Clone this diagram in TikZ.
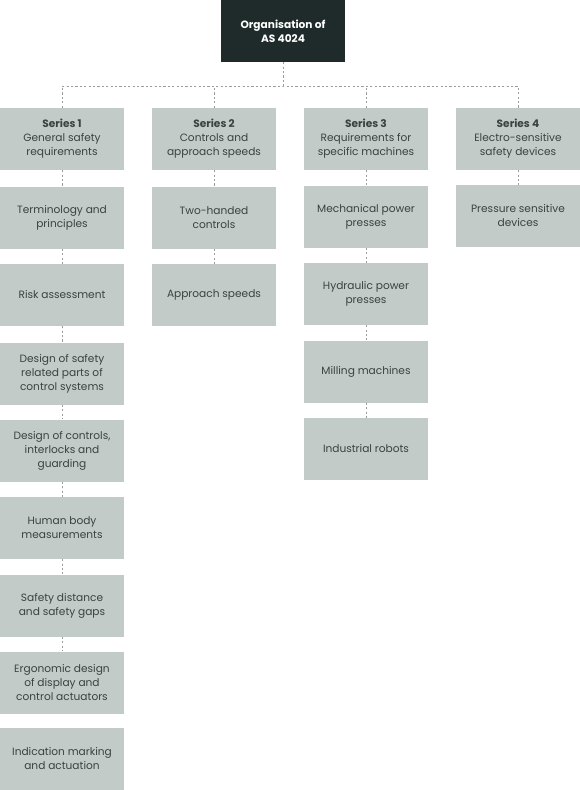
\documentclass[tikz,border=0pt]{standalone}
\usepackage{fontspec}
\setmainfont{Poppins}
\usetikzlibrary{positioning,calc}
\usepackage{xcolor}
\definecolor{boxgrey}{HTML}{C2CBC7}
\definecolor{topdark}{HTML}{1E2B2A}
\definecolor{inkgrey}{HTML}{3B4240}
\definecolor{linegrey}{HTML}{9C9C9C}

\begin{document}
\begin{tikzpicture}[x=1pt,y=-1pt,
    box/.style={fill=boxgrey,minimum width=124pt,minimum height=62pt,inner sep=0pt,align=center,
        text=inkgrey,font=\fontsize{10.6}{14}\selectfont},
    topbox/.style={box,fill=topdark,text=white,font=\fontsize{10.6}{14}\selectfont\bfseries},
    link/.style={draw=linegrey,line width=0.8pt,dash pattern=on 2.2pt off 2.2pt},
]
\useasboundingbox (0,0) rectangle (580,790);

\node[topbox] (top) at (283,31) {Organisation of\\AS 4024};

% series row
\node[box] (s1) at (62,139)  {\textbf{Series 1}\\General safety\\requirements};
\node[box] (s2) at (214,139) {\textbf{Series 2}\\Controls and\\approach speeds};
\node[box] (s3) at (366,139) {\textbf{Series 3}\\Requirements for\\specific machines};
\node[box] (s4) at (518,139) {\textbf{Series 4}\\Electro-sensitive\\safety devices};

% series 1
\node[box] (term)  at (62,217.5) {Terminology and\\principles};
\node[box] (risk)  at (62,295)   {Risk assessment};
\node[box] (dsrp)  at (62,373.5) {Design of safety\\related parts of\\control systems};
\node[box] (dctl)  at (62,450.5) {Design of controls,\\interlocks and\\guarding};
\node[box] (human) at (62,528)   {Human body\\measurements};
\node[box] (sdist) at (62,605.5) {Safety distance\\and safety gaps};
\node[box] (ergo)  at (62,682.5) {Ergonomic design\\of display and\\control actuators};
\node[box] (indic) at (62,759)   {Indication marking\\and actuation};

% series 2
\node[box] (twoh)  at (214,217.5) {Two-handed\\controls};
\node[box] (appr)  at (214,295)   {Approach speeds};

% series 3
\node[box] (mech)  at (366,216.5) {Mechanical power\\presses};
\node[box] (hydr)  at (366,294)   {Hydraulic power\\presses};
\node[box] (mill)  at (366,371.5) {Milling machines};
\node[box] (robot) at (366,449)   {Industrial robots};

% series 4
\node[box] (press) at (518,216) {Pressure sensitive\\devices};

\coordinate (bus) at (283,86);
\draw[link] (top) -- (bus);
\draw[link] (s1) |- (bus) -| (s4);
\draw[link] (s2) -- (s2 |- bus);
\draw[link] (s3) -- (s3 |- bus);

\draw[link] (s1) -- (term);
\draw[link] (term) -- (risk);
\draw[link] (risk) -- (dsrp);
\draw[link] (dsrp) -- (dctl);
\draw[link] (dctl) -- (human);
\draw[link] (human) -- (sdist);
\draw[link] (sdist) -- (ergo);

\draw[link] (s2) -- (twoh);
\draw[link] (twoh) -- (appr);

\draw[link] (s3) -- (mech);
\draw[link] (mech) -- (hydr);
\draw[link] (hydr) -- (mill);
\draw[link] (mill) -- (robot);

\draw[link] (s4) -- (press);
\end{tikzpicture}
\end{document}
